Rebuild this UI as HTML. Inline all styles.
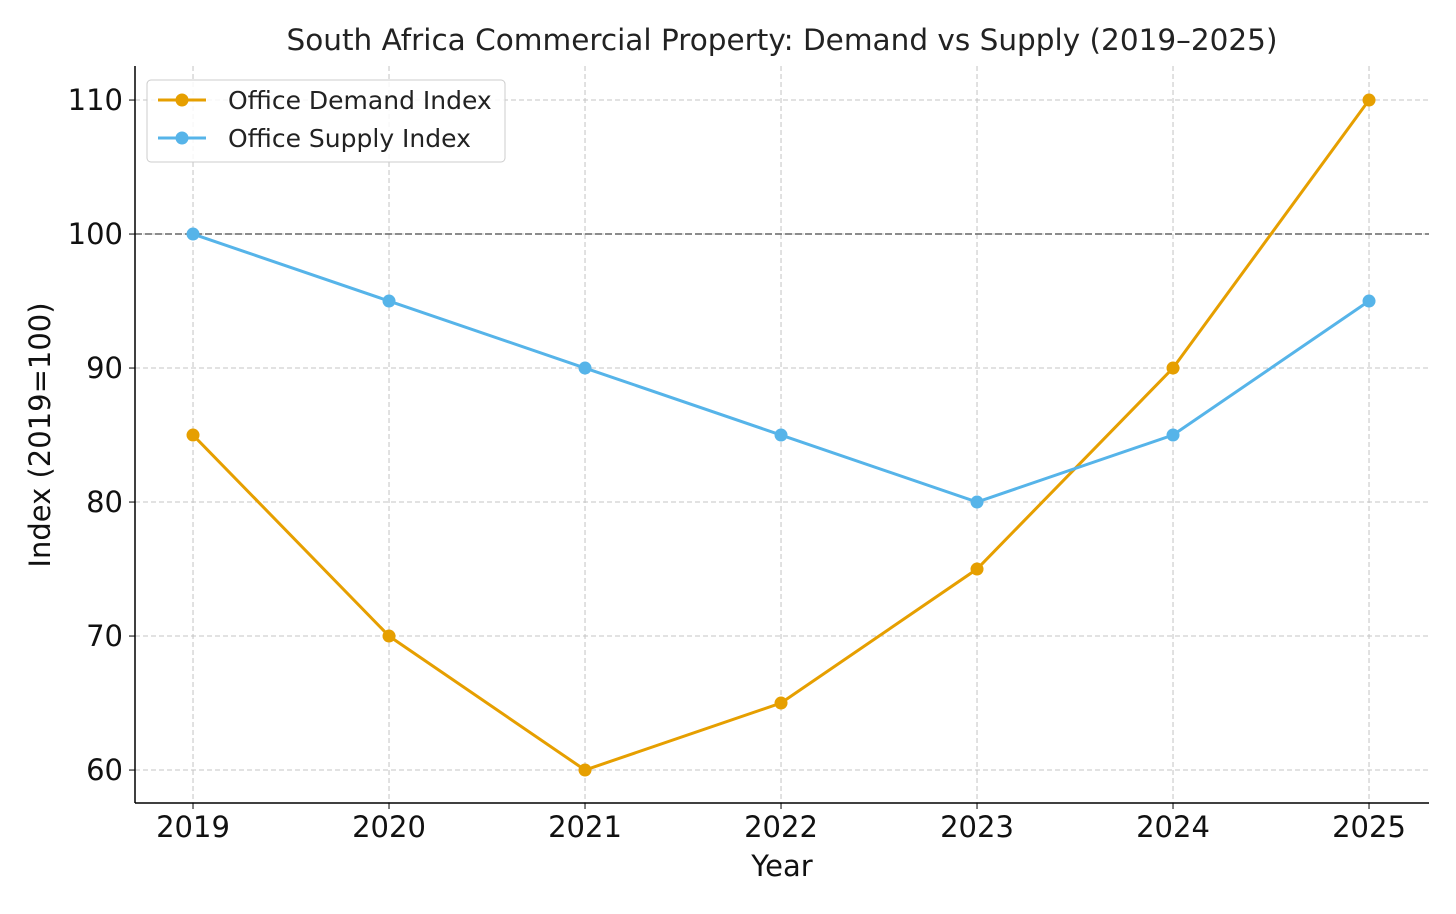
<!DOCTYPE html>
<html><head><meta charset="utf-8"><style>
body{margin:0;background:#fff;font-family:"DejaVu Sans","Liberation Sans",sans-serif}
</style></head><body>
<svg id="chart" width="1456" height="910" xmlns="http://www.w3.org/2000/svg">
<rect width="1456" height="910" fill="#fff"/>
<text x="782" y="50" text-anchor="middle" font-size="29.5" fill="#222">South Africa Commercial Property: Demand vs Supply (2019–2025)</text>
<g id="grid"></g><g id="marks"></g><g id="axes"></g>
<text x="782" y="876" text-anchor="middle" font-size="29" fill="#111">Year</text>
<text transform="translate(50,435) rotate(-90)" text-anchor="middle" font-size="29" fill="#111">Index (2019=100)</text>
<g>
<rect x="147" y="80" width="358" height="82" rx="4" fill="#fff" fill-opacity="0.85" stroke="#ccc"/>
<line x1="158" y1="100" x2="206" y2="100" stroke="#E69F00" stroke-width="3"/><circle cx="182" cy="100" r="6.5" fill="#E69F00"/>
<text x="228" y="109" font-size="25" fill="#222">Office Demand Index</text>
<line x1="158" y1="138" x2="206" y2="138" stroke="#56B4E9" stroke-width="3"/><circle cx="182" cy="138" r="6.5" fill="#56B4E9"/>
<text x="228" y="147" font-size="25" fill="#222">Office Supply Index</text>
</g>
</svg>
<script>
const years=[2019,2020,2021,2022,2023,2024,2025];
const demand=[85,70,60,65,75,90,110];
const supply=[100,95,90,85,80,85,95];
const yTicks=[60,70,80,90,100,110];
const ns="http://www.w3.org/2000/svg";
const L=135,R=1429,T=66,B=803,x0=2018.704,x1=2025.306,y0=57.54,y1=112.54;
const X=v=>L+(v-x0)/(x1-x0)*(R-L);
const Y=v=>B-(v-y0)/(y1-y0)*(B-T);
function mk(p,t,a){const e=document.createElementNS(ns,t);for(const k in a)e.setAttribute(k,a[k]);p.appendChild(e);return e;}
const g=document.getElementById('grid'),m=document.getElementById('marks'),ax=document.getElementById('axes');
years.forEach(y=>{const l=mk(g,'line',{x1:X(y),x2:X(y),y1:T,y2:B,stroke:'#c4c4c4','stroke-dasharray':'5,3','stroke-width':1});

const t=mk(ax,'text',{x:X(y),y:B+34,'text-anchor':'middle','font-size':29,fill:'#111'});t.textContent=y;

mk(ax,'line',{x1:X(y),x2:X(y),y1:B,y2:B+6,stroke:'#000'});});
yTicks.forEach(v=>{const l=mk(g,'line',{x1:L,x2:R,y1:Y(v),y2:Y(v),stroke:'#c4c4c4','stroke-dasharray':'5,3','stroke-width':1});

const t=mk(ax,'text',{x:L-12,y:Y(v)+10,'text-anchor':'end','font-size':29,fill:'#111'});t.textContent=v;

mk(ax,'line',{x1:L-6,x2:L,y1:Y(v),y2:Y(v),stroke:'#000'});});
const ref=mk(g,'line',{x1:L,x2:R,y1:Y(100),y2:Y(100),stroke:'#666','stroke-dasharray':'7,3','stroke-width':1.5});

mk(ax,'line',{x1:L,x2:L,y1:T,y2:B,stroke:'#000','stroke-width':1.5});
mk(ax,'line',{x1:L,x2:R,y1:B,y2:B,stroke:'#000','stroke-width':1.5});
[[demand,'#E69F00','demand'],[supply,'#56B4E9','supply']].forEach(([d,c,n])=>{
const p=mk(m,'polyline',{points:d.map((v,i)=>X(years[i])+','+Y(v)).join(' '),fill:'none',stroke:c,'stroke-width':3});

d.forEach((v,i)=>{const ci=mk(m,'circle',{cx:X(years[i]),cy:Y(v),r:6.5,fill:c});
});});
</script>
</body></html>
